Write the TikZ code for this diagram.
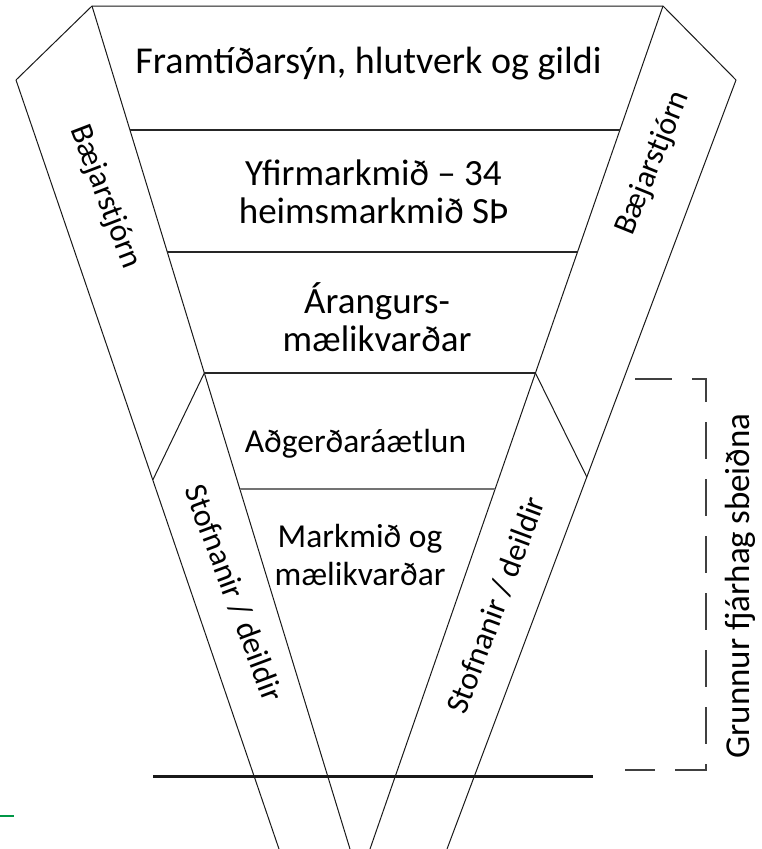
\documentclass[tikz,border=0pt]{standalone}
\usepackage{fontspec}
\setmainfont{Carlito}
\begin{document}
\begin{tikzpicture}[x=1pt,y=-1pt,
  edge/.style={line width=1pt, draw=black!90},
  sep/.style={line width=1.4pt, draw=black!85},
  lbl/.style={font=\fontsize{37}{38}\selectfont, align=center, anchor=base, inner sep=0pt},
  lbls/.style={font=\fontsize{33.5}{38}\selectfont, align=center, anchor=base, inner sep=0pt},
  side/.style={font=\fontsize{32}{38}\selectfont, inner sep=0pt, anchor=center},
  bracket/.style={line width=2pt, draw=black!75, dash pattern=on 37pt off 20pt},
]
\useasboundingbox (0,0) rectangle (761,849);
% main corners
\coordinate (LOt) at (16,80);
\coordinate (LOb) at (279,849);
\coordinate (LIt) at (92,6);
\coordinate (LIb) at (350,849);
\coordinate (RIt) at (663,6);
\coordinate (RIb) at (370,849);
\coordinate (ROt) at (736,80);
\coordinate (ROb) at (447,849);
\coordinate (LD1) at (204.3,373);
\coordinate (LD2) at (152.8,480);
\coordinate (RD1) at (535.4,373);
\coordinate (RD2) at (586.8,477);
% outline
\draw[edge] (LOt) -- (LIt) -- (RIt) -- (ROt);
\draw[edge] (LOt) -- (LOb);
\draw[edge] (LIt) -- (LIb);
\draw[edge] (RIt) -- (RIb);
\draw[edge] (ROt) -- (ROb);
\draw[edge] (LD1) -- (LD2);
\draw[edge] (RD1) -- (RD2);
% separators
\draw[sep] (130,130) -- (619.9,130);
\draw[sep] (167.3,252) -- (577.5,252);
\draw[sep] (204.3,373) -- (535.4,373);
\draw[line width=2pt, draw=black!55] (239.8,489) -- (495,489);
\draw[line width=3pt, draw=black!90] (153,776) -- (593,776);
% bracket
\draw[bracket] (635,379) -- (706,379) -- (706,770) -- (625,770);
% green mark
\draw[line width=1.5pt, draw={rgb,255:red,0;green,150;blue,70}] (0,816) -- (14,816);
% labels
\node[lbl, font=\fontsize{38}{38}\selectfont] (t1) at (368.5,73) {Framtíðarsýn, hlutverk og gildi};
\node[lbl] (t2) at (373.5,223) {Yfirmarkmið – 34\\heimsmarkmið SÞ};
\node[lbl] (t3) at (377,351) {Árangurs-\\mælikvarðar};
\node[lbls] (t4) at (355.5,452) {Aðgerðaráætlun};
\node[lbls] (t5) at (360,585) {Markmið og\\mælikvarðar};
\node[side, rotate=-69] (bl) at (105,197) {Bæjarstjórn};
\node[side, rotate=68] (br) at (653,163) {Bæjarstjórn};
\node[side, rotate=-69.5] (sl) at (234,593) {Stofnanir / deildir};
\node[side, rotate=69.5] (sr) at (496,605) {Stofnanir / deildir};
\node[side, font=\fontsize{35}{38}\selectfont, rotate=90] (gr) at (740,586) {Grunnur fjárhag\kern0.2em sbeiðna};
\end{tikzpicture}
\end{document}
